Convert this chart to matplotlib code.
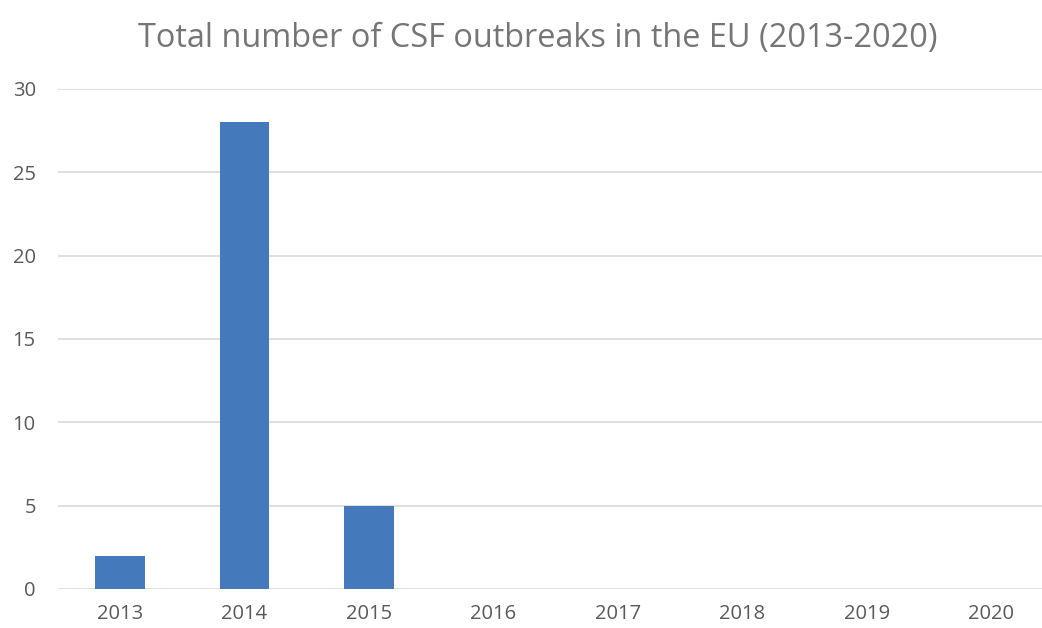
import matplotlib
matplotlib.use("Agg")
import matplotlib.pyplot as plt
import numpy as np

years = ["2013", "2014", "2015", "2016", "2017", "2018", "2019", "2020"]
outbreaks = [2, 28, 5, 0, 0, 0, 0, 0]
y_ticks = [0, 5, 10, 15, 20, 25, 30]

plt.rcParams["font.family"] = ["Open Sans", "DejaVu Sans"]

W, H = 1042, 628
fig = plt.figure(figsize=(W / 100, H / 100), dpi=100)
ax = fig.add_axes([58 / W, 39 / H, (W - 58) / W, 500 / H])

x = np.arange(len(years))
ax.bar(x, outbreaks, width=0.4, color="#4479BB", zorder=3)

ax.set_xlim(-0.498, 7.406)
ax.set_ylim(0, 30)
ax.set_yticks(y_ticks)
ax.set_xticks(x)
ax.set_xticklabels(years)
ax.grid(axis="y", color="#D9D9D9", linewidth=1.2, zorder=0)
ax.tick_params(length=0, labelsize=14.5, colors="#595959")
ax.tick_params(axis="y", pad=16)
ax.tick_params(axis="x", pad=11)
for s in ax.spines.values():
    s.set_visible(False)

fig.text(538 / W, 1 - 38 / H, "Total number of CSF outbreaks in the EU (2013-2020)",
         ha="center", va="center", fontsize=23.4, color="#757575")

fig.savefig("out.png", dpi=100)
